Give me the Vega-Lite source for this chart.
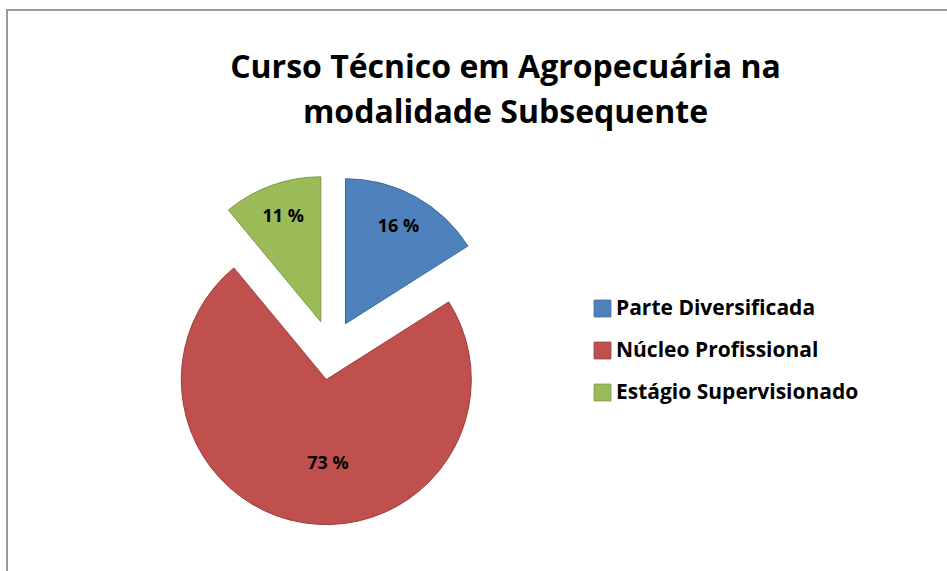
{
  "$schema": "https://vega.github.io/schema/vega-lite/v6.json",
  "width": 970,
  "height": 590,
  "autosize": "none",
  "padding": {"left": 7, "top": 10, "right": -30, "bottom": -29},
  "background": "white",
  "view": {"stroke": "#9a9a9a", "strokeWidth": 2},
  "config": {
    "style": {"cell": {"stroke": "#9a9a9a", "strokeWidth": 2}},
    "font": "Open Sans"
  },
  "title": {
    "text": ["Curso Técnico em Agropecuária na", "modalidade Subsequente"],
    "font": "Open Sans",
    "fontSize": 32,
    "fontWeight": "bold",
    "color": "black",
    "lineHeight": 45,
    "anchor": "middle",
    "baseline": "top",
    "offset": 0,
    "dx": 13.5,
    "dy": 120
  },
  "data": {
    "values": [
      {"cat": "Parte Diversificada", "value": 16, "label": "16 %", "order": 1},
      {"cat": "Núcleo Profissional", "value": 73, "label": "73 %", "order": 2},
      {"cat": "Estágio Supervisionado", "value": 11, "label": "11 %", "order": 3}
    ]
  },
  "encoding": {
    "theta": {"field": "value", "type": "quantitative", "stack": true},
    "order": {"field": "order", "type": "quantitative"}
  },
  "layer": [
    {
      "mark": {"type": "arc", "outerRadius": 145, "strokeWidth": 1, "xOffset": -146.5, "yOffset": 18.7},
      "encoding": {
        "color": {"field": "cat", "type": "nominal", "scale": {"domain": ["Parte Diversificada", "Núcleo Profissional", "Estágio Supervisionado"], "range": ["#4f81bd", "#c0504d", "#9bbb59"]},
          "legend": {"title": null, "orient": "none", "legendX": 585, "legendY": 288, "symbolType": "square", "symbolSize": 280, "symbolStrokeWidth": 1, "labelFont": "Open Sans", "labelFontSize": 21, "labelFontWeight": "bold", "labelColor": "black", "labelOffset": 3, "rowPadding": 20, "padding": 0, "labelLimit": 400}},
        "stroke": {"field": "cat", "type": "nominal", "scale": {"domain": ["Parte Diversificada", "Núcleo Profissional", "Estágio Supervisionado"], "range": ["#3c6a9f", "#9c3c3a", "#7d9a45"]}},
        "opacity": {"condition": {"test": "datum.cat === 'Parte Diversificada'", "value": 1}, "value": 0}
      }
    },
    {
      "mark": {"type": "arc", "outerRadius": 145, "strokeWidth": 1, "xOffset": -165.7, "yOffset": 74.6},
      "encoding": {
        "color": {"field": "cat", "type": "nominal"},
        "stroke": {"field": "cat", "type": "nominal"},
        "opacity": {"condition": {"test": "datum.cat === 'Núcleo Profissional'", "value": 1}, "value": 0}
      }
    },
    {
      "mark": {"type": "arc", "outerRadius": 145, "strokeWidth": 1, "xOffset": -171.2, "yOffset": 16.8},
      "encoding": {
        "color": {"field": "cat", "type": "nominal"},
        "stroke": {"field": "cat", "type": "nominal"},
        "opacity": {"condition": {"test": "datum.cat === 'Estágio Supervisionado'", "value": 1}, "value": 0}
      }
    },
    {
      "mark": {"type": "text", "radius": 110, "xOffset": -146.5, "yOffset": 18.7, "font": "Open Sans", "fontSize": 18, "fontWeight": "bold", "color": "black"},
      "encoding": {
        "text": {"field": "label"},
        "opacity": {"condition": {"test": "datum.cat === 'Parte Diversificada'", "value": 1}, "value": 0}
      }
    },
    {
      "mark": {"type": "text", "radius": 85, "xOffset": -165.7, "yOffset": 74.6, "dx": 15, "font": "Open Sans", "fontSize": 18, "fontWeight": "bold", "color": "black"},
      "encoding": {
        "text": {"field": "label"},
        "opacity": {"condition": {"test": "datum.cat === 'Núcleo Profissional'", "value": 1}, "value": 0}
      }
    },
    {
      "mark": {"type": "text", "radius": 111, "xOffset": -171.2, "yOffset": 16.8, "font": "Open Sans", "fontSize": 18, "fontWeight": "bold", "color": "black"},
      "encoding": {
        "text": {"field": "label"},
        "opacity": {"condition": {"test": "datum.cat === 'Estágio Supervisionado'", "value": 1}, "value": 0}
      }
    }
  ]
}
